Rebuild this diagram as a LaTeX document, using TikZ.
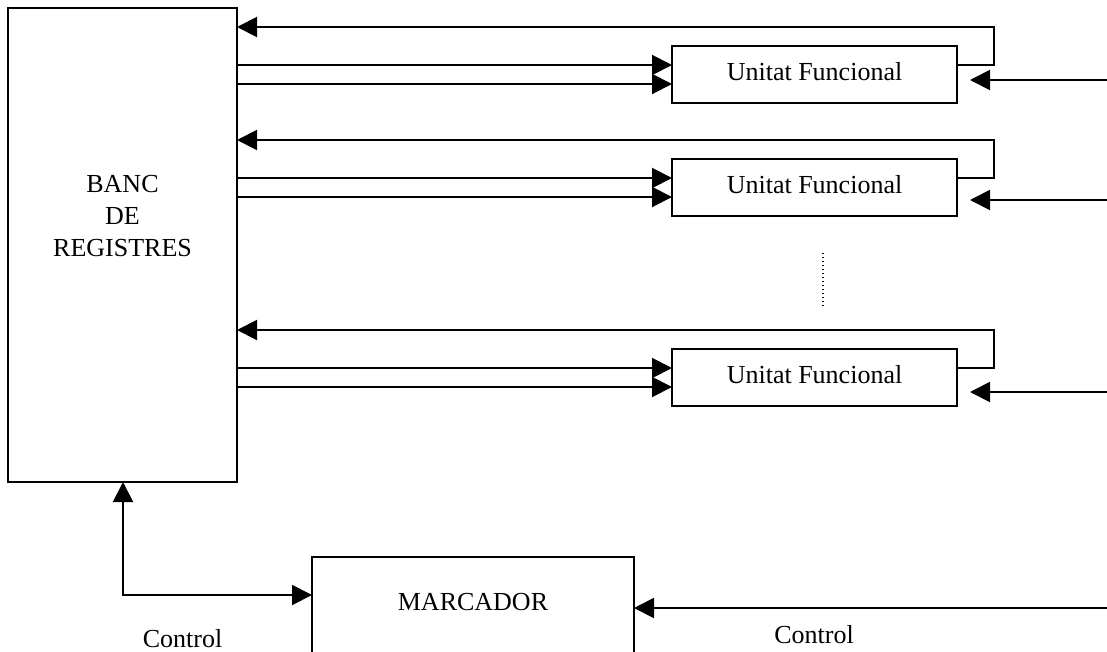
\documentclass[tikz,border=0pt]{standalone}
\usepackage{fontspec}
\setmainfont{Liberation Serif}
\usetikzlibrary{arrows.meta,calc}
\begin{document}
\begin{tikzpicture}[x=1pt,y=-1pt,
  every node/.style={font=\fontsize{26}{32}\selectfont},
  box/.style={draw, line width=2pt, outer sep=0pt, inner sep=0pt},
  unitbox/.style={box, minimum width=285pt, minimum height=57pt, text height=17pt, text depth=6pt},
  arr/.style={line width=2pt, -{Triangle[length=20pt,width=20pt]}},
  arrboth/.style={line width=2pt, {Triangle[length=20pt,width=20pt]}-{Triangle[length=20pt,width=20pt]}},
  lbl/.style={inner sep=0pt, anchor=base}]
\useasboundingbox (0,0) rectangle (1107,651);
\clip (0,0) rectangle (1107,651);
\coordinate (edge) at (1107,0);

% register file
\node[box, minimum width=229pt, minimum height=474pt] (banc) at (122.5,245) {};
\node[align=center, inner sep=0pt] (banctxt) at (122.5,216.5) {BANC\\DE\\REGISTRES};

% functional units
\foreach \n/\yc in {1/74.5, 2/187.5, 3/377.5}
  \node[unitbox] (u\n) at (814.5,\yc) {Unitat Funcional};

% operand buses, result bus and control input of each unit
\foreach \n/\r in {1/34, 2/41, 3/43}{
  \coordinate (fb\n) at ($(u\n.north east)+(37,-19)$);
  \coordinate (ia\n) at ($(u\n.north west)+(0,19)$);
  \coordinate (ib\n) at ($(u\n.north west)+(0,38)$);
  \coordinate (ri\n) at ($(u\n.north east)+(13,\r)$);
  \draw[arr] (ia\n -| u\n.east) -| (fb\n) -- (fb\n -| banc.east);
  \draw[arr] (ia\n -| banc.east) -- (ia\n);
  \draw[arr] (ib\n -| banc.east) -- (ib\n);
  \draw[arr] (ri\n -| edge) -- (ri\n);
}

% more units in between
\draw[line width=1.2pt, dash pattern=on 1.2pt off 2.8pt] (823,253) -- (823,308);

% scoreboard
\node[box, minimum width=322pt, minimum height=186pt] (marc) at (473,650) {};
\node[lbl] (marctxt) at (473,610) {MARCADOR};
\coordinate (cj) at (123,595);
\draw[arrboth] (cj |- banc.south) -- (cj) -- (cj -| marc.west);
\coordinate (mc) at ($(marc.north east)+(0,51)$);
\draw[arr] (mc -| edge) -- (mc);

\node[lbl] (ctl1) at (182.5,647) {Control};
\node[lbl] (ctl2) at (814,643) {Control};
\end{tikzpicture}
\end{document}
